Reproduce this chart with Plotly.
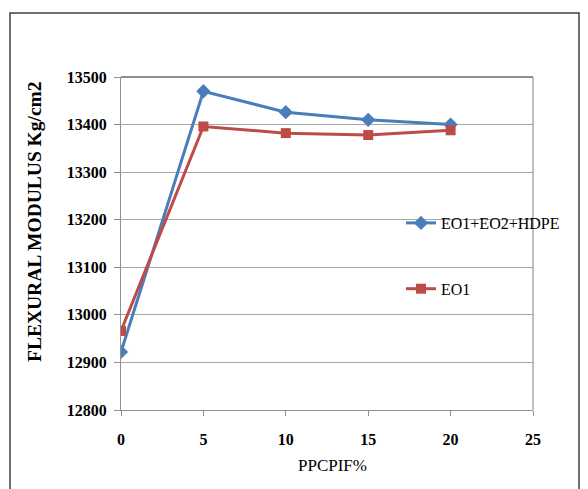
import plotly.graph_objects as go

x_vals = [0, 5, 10, 15, 20]
blend = [12922, 13470, 13426, 13410, 13400]
eo1 = [12966, 13396, 13382, 13378, 13388]
series_names = ["EO1+EO2+HDPE", "EO1"]
x_ticks = [0, 5, 10, 15, 20, 25]
y_ticks = [12800, 12900, 13000, 13100, 13200, 13300, 13400, 13500]
x_title = "PPCPIF%"
y_title = "FLEXURAL MODULUS Kg/cm2"

W, H = 588, 489
L, R, T, B = 121, 533, 77, 410

fig = go.Figure()
fig.add_trace(go.Scatter(x=x_vals, y=blend, name=series_names[0], mode="lines+markers",
                         line=dict(color="#4a7ebb", width=3),
                         marker=dict(symbol="diamond", size=11, color="#4a7ebb"),
                         legendgroup="a"))
fig.add_trace(go.Scatter(x=x_vals, y=eo1, name=series_names[1], mode="lines+markers",
                         line=dict(color="#be4b48", width=3),
                         marker=dict(symbol="square", size=10, color="#be4b48"),
                         legendgroup="b"))

def px(xp):
    return (xp - L) / (R - L)

def py(yp):
    return (B - yp) / (B - T)

fig.add_shape(type="rect", xref="paper", yref="paper",
              x0=px(10), x1=px(579), y0=py(500), y1=py(13),
              line=dict(color="#404040", width=1.5), fillcolor="rgba(0,0,0,0)", layer="below")
fig.add_shape(type="line", xref="paper", yref="paper",
              x0=0, x1=1, y0=1, y1=1, line=dict(color="#202020", width=1))
fig.add_shape(type="line", xref="paper", yref="paper",
              x0=1, x1=1, y0=0, y1=1, line=dict(color="#808080", width=1))

font_fam = "Times New Roman"

fig.add_annotation(text=y_title, xref="paper", yref="paper", x=px(35), y=py(222),
                   xanchor="center", yanchor="middle", textangle=-90, showarrow=False,
                   font=dict(family=font_fam, size=19.5, color="black", weight="bold"))
fig.add_annotation(text=x_title, xref="paper", yref="paper", x=px(332), y=py(465),
                   xanchor="center", yanchor="middle", showarrow=False,
                   font=dict(family=font_fam, size=17, color="black"))

fig.update_layout(
    width=W, height=H,
    margin=dict(l=L, r=W - R, t=T, b=H - B),
    paper_bgcolor="white", plot_bgcolor="white",
    font=dict(family=font_fam, color="black", size=15),
    legend=dict(x=px(401), y=py(206), xanchor="left", yanchor="top",
                bgcolor="rgba(0,0,0,0)", tracegroupgap=42,
                font=dict(family=font_fam, size=16, color="black")),
    xaxis=dict(range=[0, 25], tickvals=x_ticks, ticktext=[str(v) for v in x_ticks],
               showgrid=False, zeroline=False,
               showline=True, linecolor="#909090", linewidth=1,
               ticks="outside", ticklen=5, tickcolor="#909090", ticklabelstandoff=10,
               tickfont=dict(family=font_fam, size=16, color="black", weight="bold")),
    yaxis=dict(range=[12800, 13500], tickvals=y_ticks, ticktext=[str(v) for v in y_ticks],
               showgrid=True, gridcolor="#a6a6a6",
               gridwidth=1, zeroline=False, showline=True, linecolor="#909090", linewidth=1,
               ticks="outside", ticklen=6, tickcolor="#909090", ticklabelstandoff=4,
               tickfont=dict(family=font_fam, size=16, color="black", weight="bold")),
)

fig.write_html("out.html")
